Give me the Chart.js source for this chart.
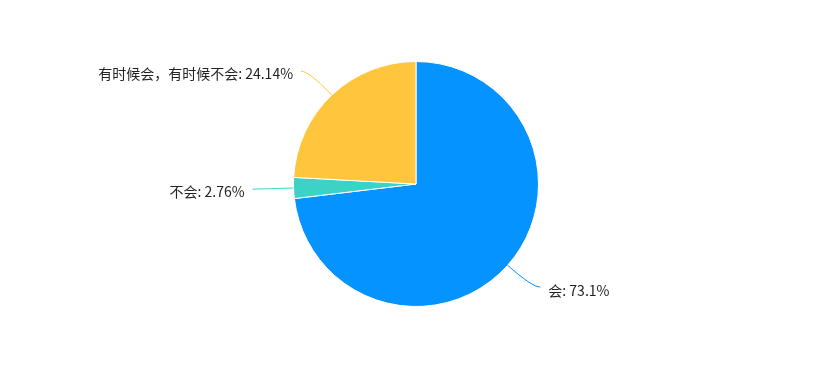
<!DOCTYPE html>
<html>
<head>
<meta charset="utf-8">
<script src="https://cdn.jsdelivr.net/npm/chart.js@4/dist/chart.umd.min.js"></script>
<style>
  html, body { margin: 0; padding: 0; background: #fff; }
  #wrap { width: 832px; height: 370px; }
</style>
</head>
<body>
<div id="wrap"><canvas id="pieChart"></canvas></div>
<script>
// data
var labels = ['会', '不会', '有时候会，有时候不会'];
var values = [73.1, 2.76, 24.14];
var colors = ['#0593FF', '#3CD3C6', '#FFC53D'];

// draws the outside labels with bent leader lines
var outLabels = {
  id: 'outLabels',
  afterDatasetsDraw: function(chart) {
    var ctx = chart.ctx;
    var meta = chart.getDatasetMeta(0);
    ctx.save();
    ctx.font = '14px "Noto Sans CJK SC", "Noto Sans", sans-serif';
    ctx.fillStyle = '#222';
    ctx.textBaseline = 'middle';
    meta.data.forEach(function(arc, i) {
      var p = arc.getProps(['x', 'y', 'startAngle', 'endAngle', 'outerRadius'], true);
      var mid = (p.startAngle + p.endAngle) / 2;
      var cos = Math.cos(mid), sin = Math.sin(mid);
      var side = cos >= 0 ? 1 : -1;
      var x0 = p.x + cos * p.outerRadius, y0 = p.y + sin * p.outerRadius;
      var x1 = p.x + cos * (p.outerRadius + 33), y1 = p.y + sin * (p.outerRadius + 33);
      var x2 = x1 + side * 8, y2 = y1;
      ctx.strokeStyle = colors[i];
      ctx.lineWidth = 1;
      ctx.beginPath();
      ctx.moveTo(x0, y0);
      ctx.quadraticCurveTo(x1, y1, x2, y2);
      ctx.stroke();
      ctx.textAlign = side > 0 ? 'left' : 'right';
      ctx.fillText(labels[i] + ': ' + values[i] + '%', x2 + side * 8, y2 + 3);
    });
    ctx.restore();
  }
};

var data = {
  labels: labels,
  datasets: [{
    data: values,
    backgroundColor: colors,
    borderColor: '#fff',
    borderWidth: 1
  }]
};

var config = {
  type: 'pie',
  data: data,
  options: {
    responsive: true,
    maintainAspectRatio: false,
    animation: false,
    layout: { padding: { top: 61, bottom: 63, left: 0, right: 0 } },
    plugins: {
      legend: { display: false },
      tooltip: { enabled: false }
    }
  },
  plugins: [outLabels]
};

var pieChart = new Chart(document.getElementById('pieChart'), config);
</script>
</body>
</html>
